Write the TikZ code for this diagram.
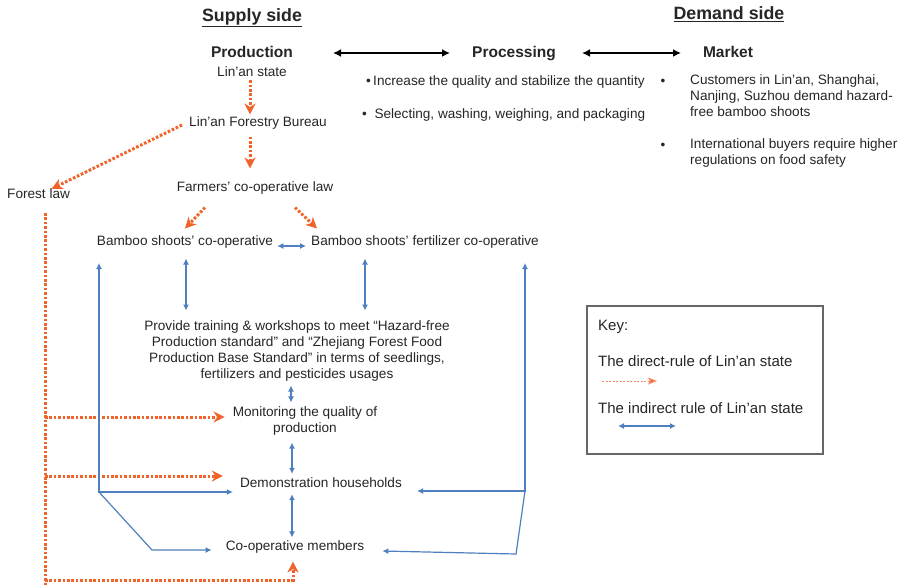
\documentclass[tikz,border=0pt]{standalone}
\usepackage{fontspec}
\setmainfont{Liberation Sans}
\usetikzlibrary{arrows.meta,calc}
\definecolor{dirc}{HTML}{F0642A}
\definecolor{indc}{HTML}{4F7FBF}
\definecolor{txt}{HTML}{262626}
\begin{document}
\begin{tikzpicture}[x=1pt,y=-1pt,
  lbl/.style={inner sep=1pt,text=txt,font=\fontsize{13.6}{16}\selectfont},
  keylbl/.style={inner sep=1pt,text=txt,font=\fontsize{15}{17}\selectfont},
  head/.style={inner sep=1pt,text=txt,text height=11pt,text depth=3pt,font=\fontsize{15.5}{17}\selectfont\bfseries},
  side/.style={inner sep=1pt,text=txt,font=\fontsize{17.8}{19}\selectfont\bfseries},
  direct/.style={draw=dirc,line width=3pt,dash pattern=on 2.6pt off 1.8pt,-{Stealth[length=11pt,width=11pt,inset=3.5pt,fill=dirc]}},
  directline/.style={draw=dirc,line width=3pt,dash pattern=on 2.6pt off 1.8pt},
  indirect/.style={draw=indc,line width=1.2pt,{Latex[length=6pt,width=6pt]}-{Latex[length=6pt,width=6pt]}},
  indone/.style={draw=indc,line width=1.2pt,-{Latex[length=6pt,width=6pt]}},
  blackarr/.style={draw=black,line width=2pt,{Latex[length=8pt,width=8pt]}-{Latex[length=8pt,width=8pt]}}
]
\useasboundingbox (0,0) rectangle (902,587);
\fill[white] (0,0) rectangle (902,587);

% headings
\node[side] (supply) at (252,18) {\underline{Supply side}};
\node[side] (demand) at (729,14) {\underline{Demand side}};
\node[head] (prod) at (252,53) {Production};
\node[lbl] (state) at (252,72) {Lin'an state};
\node[head] (proc) at (514,53) {Processing};
\node[head] (market) at (728,53) {Market};
\coordinate (a1) at (333,53);
\coordinate (a2) at (450,53);
\coordinate (a3) at (582,53);
\coordinate (a4) at (681,53);
\draw[blackarr] (a1) -- (a2);
\draw[blackarr] (a3) -- (a4);

% processing bullets
\node[lbl,anchor=west] (p1) at (365,82) {\textbullet\,Increase the quality and stabilize the quantity};
\node[lbl,anchor=west] (p2) at (361,115) {\textbullet\ \ Selecting, washing, weighing, and packaging};

% market bullets
\node[lbl] (mb1) at (663,82) {\textbullet};
\node[lbl] (mb2) at (663,146) {\textbullet};
\node[lbl,anchor=north west,align=left] (m1) at (689,73) {Customers in Lin'an, Shanghai,\\Nanjing, Suzhou demand hazard-\\free bamboo shoots};
\node[lbl,anchor=north west,align=left] (m2) at (689,137) {International buyers require higher\\regulations on food safety};

% supply chain
\node[lbl] (bureau) at (258,123) {Lin'an Forestry Bureau};
\node[lbl,anchor=west] (forest) at (6,194) {Forest law};
\node[lbl] (farmers) at (255,188) {Farmers' co-operative law};
\node[lbl] (bsc) at (185,242) {Bamboo shoots' co-operative};
\node[lbl] (bsf) at (425,242) {Bamboo shoots' fertilizer co-operative};
\node[lbl,align=center] (train) at (297,351) {Provide training \& workshops to meet ``Hazard-free\\Production standard'' and ``Zhejiang Forest Food\\Production Base Standard'' in terms of seedlings,\\fertilizers and pesticides usages};
\node[lbl,align=center] (monitor) at (305,421) {Monitoring the quality of\\production};
\node[lbl] (demo) at (321,483) {Demonstration households};
\node[lbl] (members) at (295,547) {Co-operative members};

% direct rule (orange)
\draw[direct] ($(state.south)+(-2,2)$) -- ($(bureau.north)+(-8,-1)$);
\draw[direct] ($(bureau.south)+(-8,6)$) -- ($(farmers.north)+(-5,-12)$);
\draw[direct] ($(bureau.west)+(-6,2)$) -- ($(forest.north)+(13,1)$);
\draw[direct] ($(farmers.south)+(-50,12)$) -- ($(bsc.north)+(0,-6)$);
\draw[direct] ($(farmers.south)+(40,12)$) -- ($(bsf.north)+(-108,-6)$);
\coordinate (ftop) at (45,213);
\coordinate (fend) at (45,585);
\coordinate (fbot) at (45,580);
\draw[directline] (ftop) -- (fend);
\coordinate (fm) at (45,417);
\coordinate (fd) at (45,476);
\draw[direct,shorten >=7pt] (fm) -- (fm -| monitor.west);
\draw[direct,shorten >=16pt] (fd) -- (fd -| demo.west);
\draw[direct] (fbot) -| ($(members.south)+(-2,7)$);

% indirect rule (blue)
\draw[indirect] ($(bsc.east)+(3,4)$) -- ($(bsf.west)+(-4,4)$);
\draw[indirect] ($(bsc.south)+(1,9)$) -- ($(bsc.south)+(1,61)$);
\draw[indirect] ($(bsf.south)+(-60,9)$) -- ($(bsf.south)+(-60,61)$);
\draw[indirect] ($(train.south)+(-6,3)$) -- ($(monitor.north)+(-14,-3)$);
\draw[indirect] ($(monitor.south)+(-13,6)$) -- ($(demo.north)+(-29,-3)$);
\draw[indirect] ($(demo.south)+(-29,5)$) -- ($(members.north)+(-3,-2)$);

\coordinate (lc) at (99,492);
\coordinate (lt) at (99,263);
\coordinate (ld) at (152,550);
\draw[indirect] (lt) |- ($(demo.west)+(-6,9)$);
\draw[indone] (lc) -- (ld) -- ($(members.west)+(-13,3)$);
\coordinate (rc) at (525,491);
\coordinate (rt) at (525,263);
\coordinate (rd) at (516,554);
\draw[indirect] (rt) |- ($(demo.east)+(14,8)$);
\draw[indone] (rc) -- (rd) -- ($(members.east)+(17,4)$);

% key
\node[draw=gray!80!black,line width=1.5pt,minimum width=236pt,minimum height=148pt,anchor=north west] (key) at (586,305) {};
\node[keylbl,anchor=west] (k1) at (597,327) {Key:};
\node[keylbl,anchor=west] (k2) at (597,361) {The direct-rule of Lin'an state};
\node[keylbl,anchor=west] (k3) at (597,408) {The indirect rule of Lin'an state};
\coordinate (kd1) at (602,381);
\coordinate (kd2) at (657,381);
\draw[draw=dirc!75,line width=1pt,dash pattern=on 2pt off 1.5pt,-{Stealth[length=9pt,width=7pt,inset=2pt,fill=dirc]}] (kd1) -- (kd2);
\coordinate (ki1) at (618,426);
\coordinate (ki2) at (676,426);
\draw[indirect] (ki1) -- (ki2);
\end{tikzpicture}
\end{document}
